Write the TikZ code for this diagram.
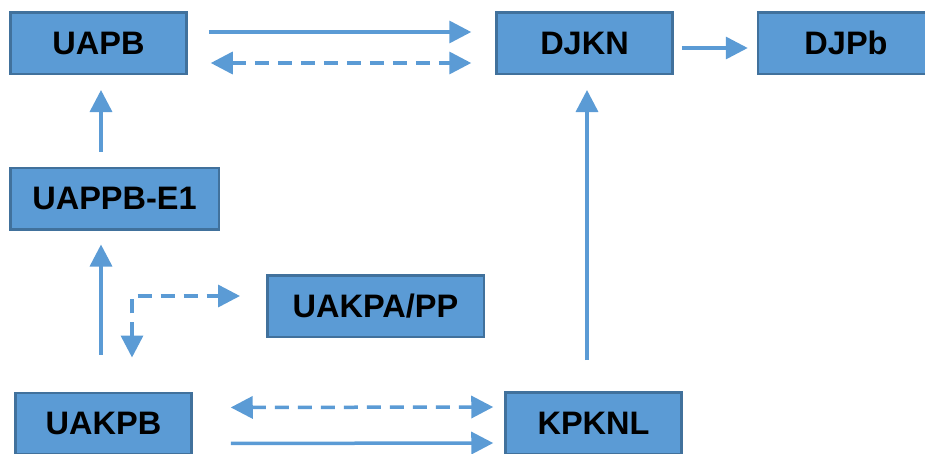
\documentclass[tikz,border=0pt]{standalone}
\usepackage{fontspec}
\setmainfont{Liberation Sans}
\usetikzlibrary{arrows.meta}
\definecolor{boxfill}{HTML}{5B9BD5}
\definecolor{boxline}{HTML}{41719C}
\begin{document}
\begin{tikzpicture}[x=1pt,y=-1pt,
        box/.style={rectangle,draw=boxline,fill=boxfill,line width=2.5pt,
            minimum width=176pt,minimum height=61.5pt,inner sep=0pt,
            font=\fontsize{32.5}{39}\selectfont\bfseries},
        link/.style={draw=boxfill,line width=3.5pt,-{Triangle[length=22pt,width=22pt]}},
        both/.style={link,{Triangle[length=22pt,width=22pt]}-{Triangle[length=22pt,width=22pt]},
            dash pattern=on 14pt off 9pt}]

    \clip (0,0) rectangle (925,453);

    \node[box] (uapb) at (98.5,43) {UAPB};
    \node[box] (djkn) at (584.5,43) {DJKN};
    \node[box] (djpb) at (846,43) {DJPb};
    \node[box,minimum width=208.5pt] (uappb) at (114.5,198.5) {UAPPB-E1};
    \node[box,minimum width=216.5pt] (uakpa) at (375.5,306) {UAKPA/PP};
    \node[box] (uakpb) at (103.5,423.5) {UAKPB};
    \node[box] (kpknl) at (593.5,423) {KPKNL};

    % top row
    \draw[link,shorten <=21pt,shorten >=24pt] ([yshift=11pt]uapb.east) -- ([yshift=11pt]djkn.west);
    \draw[both,shorten <=23pt,shorten >=24pt] ([yshift=-20pt]uapb.east) -- ([yshift=-20pt]djkn.west);
    \draw[link,shorten <=8pt,shorten >=9pt] ([yshift=-5pt]djkn.east) -- ([yshift=-5pt]djpb.west);

    % left column
    \draw[link,shorten <=15pt,shorten >=15pt] ([xshift=-13.5pt]uappb.north) -- ([xshift=2.5pt]uapb.south);
    \draw[link,shorten <=37pt,shorten >=14pt] ([xshift=-2.5pt]uakpb.north) -- ([xshift=-13.5pt]uappb.south);
    \draw[both,shorten <=34pt,shorten >=26pt] ([xshift=28.5pt]uakpb.north) |- ([yshift=10pt]uakpa.west);

    % bottom row
    \draw[link,shorten <=31pt,shorten >=15pt] ([xshift=-6.5pt]kpknl.north) -- ([xshift=2.5pt]djkn.south);
    \draw[both,shorten <=38pt,shorten >=11pt] ([yshift=16pt]uakpb.east) -- ([yshift=16pt]kpknl.west);
    \draw[link,shorten <=38pt,shorten >=11pt] ([yshift=-20pt]uakpb.east) -- ([yshift=-20pt]kpknl.west);
\end{tikzpicture}
\end{document}
